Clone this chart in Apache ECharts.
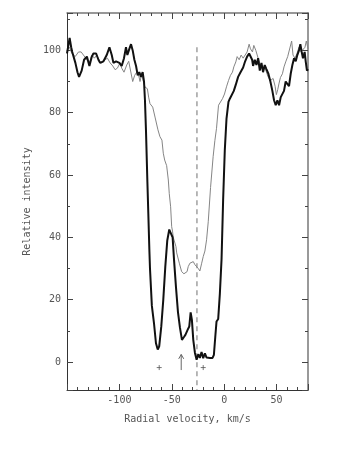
<!DOCTYPE html>
<html><head><meta charset="utf-8">
<script src="https://cdn.jsdelivr.net/npm/echarts@6/dist/echarts.min.js"></script>
<style>html,body{margin:0;padding:0;background:#fff}#c{width:349px;height:451px}</style>
</head><body><div id="c"></div>
<script>
// Thick black profile
const blackVel = [-150,-148.5,-147.5,-146,-145,-142,-140,-138.5,-136,-133.7,-131,-128.6,-126.3,-124.8,-122.2,-120,-118.4,-115.2,-112.1,-109.5,-107.3,-105.7,-103.2,-100,-97.8,-95.6,-93.7,-92.4,-90.5,-88.9,-87.3,-85.7,-84.1,-82.5,-81,-79.4,-77.8,-76.5,-75.6,-74.6,-73.3,-72.4,-71.4,-70.8,-69,-67,-65.1,-63.4,-62,-60,-58.1,-56.2,-54.3,-52.4,-50.5,-49.2,-47.9,-46,-44.1,-42.2,-40.3,-38.4,-37,-34.9,-33.3,-32,-30.8,-29.5,-27.9,-26.3,-24.7,-23.2,-21.6,-20,-18.4,-16.8,-15.2,-13.6,-11.1,-9.8,-8.5,-7.3,-5.7,-4.1,-2.5,-1,0.6,2.2,4.1,5.4,7.3,9.2,11.1,13.3,15.6,18.1,20,21.9,23.8,25.1,26.7,27.6,29.2,30.8,32.4,34,35.6,37.1,38.7,40.3,42.2,44.1,46,47.6,49.2,50.8,52.4,54,55.6,57.1,58.7,60.3,61.9,63.5,65.1,66.7,68.3,69.8,71.4,72.7,74,75.2,76.8,77.8,79,80];
const blackInt = [99,102,104,101,99.5,96,93,91.5,93.5,97,98,95,98,99,99,97,96,96.5,98.5,101,98.5,96,96.5,96,95,97.5,101,98.5,100.5,102,100,97,95,92,93,91.5,93,90,84,74,58,47.7,36,30,18,12.5,6,4,5,11.5,20,30.5,39,42.5,42.3,40,33,24,16,11,7.1,8,8.7,10.3,11.4,15.9,13.5,7.1,2.9,0.7,2.5,1.3,3.2,1.2,2.8,1.4,2,1.3,1.3,2.3,8,13,13.8,22,33,52,68,78,83.5,84.5,84.8,87,89,91.5,93,94.5,96.5,98,99,98.5,97,95,97,95.3,97.5,93.5,96,93,95.3,94,92.5,90,87,84,82.4,84,82.4,85,85.5,87,90,89.5,88.5,92.5,95.3,97.5,96.5,98.5,100,102,99.5,97.5,99.5,96.5,93.5,94];
// Thin grey profile
const grayVel = [-150,-147.6,-145.4,-142.2,-139,-136.5,-134.3,-131.1,-128.6,-126.3,-123.8,-121.6,-119,-116.8,-113.7,-111.4,-108.9,-106.3,-104.1,-101.9,-99.4,-97.8,-95.6,-93,-91.1,-89.2,-87.3,-85.4,-83.5,-81.6,-80.3,-78.7,-77.1,-75.5,-73.3,-72.1,-70.8,-68.2,-66,-63.2,-61.3,-59.4,-58.1,-56.8,-54.9,-53.3,-52.4,-51.1,-50.1,-49.3,-48.6,-47.3,-46,-45.3,-42.8,-40.6,-38.4,-36.5,-35.4,-34.3,-32.7,-31.1,-29.5,-27.9,-26.3,-24.7,-23.2,-21.6,-20,-18.4,-16.8,-15.2,-13,-10.5,-8.9,-7.3,-5.4,-3.5,-1.6,0.3,2.2,4.1,6,7.9,9.2,11.1,12.4,14.3,16.2,18.1,20,21.9,23.8,25.1,27,28.3,30.2,32.4,34.6,37.1,39.7,41.9,44.1,46.7,48.6,49.8,51.1,52.4,53.7,55.6,57.1,58.7,60.6,62.5,64.4,65.7,67.6,69.5,71.4,73.3,75.2,77.1,78.4,80];
const grayInt = [100,101,99,98,99.5,99.5,98.5,97,96,98.5,97.5,98.5,96.5,96,97,97.5,96,95,93.8,94.3,96,94.3,93,95.3,96.5,96,90,92,93,92,90,92.5,90,88.2,87.7,85,82.9,81.8,78.6,74.5,72.3,71.2,67,64.8,63,58.4,54,49.8,43.4,42,40,39.7,37,35,31.7,29,28.3,27.8,29,30.6,31.7,31.2,32.2,31.2,31.7,30,29.2,31.5,33.8,35.6,39.2,45,56,66,71,75,82.4,83,84.5,86,88.3,90.3,92,93,94.7,96.3,98,97,98.5,97.5,98,99.5,102,100.5,99.5,101.6,100,97.5,95.3,94.7,93.7,91.5,90.3,91,88.5,85.8,87.4,89.5,91.3,92.5,94.7,96.3,98,97.5,103,98.5,97.5,99,101,99.5,99,101,103,100.5];
const xTickLabels = [-100, -50, 0, 50];
const yTickLabels = [0, 20, 40, 60, 80, 100];
const refVelocity = -26, refTop = 101;
const plusVel = [-62, -20], plusInt = [-1.8, -1.8];
const arrowVel = -41, arrowBase = -2.6, arrowTip = 2.4, arrowHeadDx = 2.4, arrowHeadDy = 1.4;

const X_MIN = -150, X_MAX = 80, Y_MIN = -9, Y_MAX = 112;
const FONT = 'DejaVu Sans Mono';
const TICK = {color: '#444', width: 1};

function xAxis(pos, interval, len, labels, line) {
  return {
    type: 'value', position: pos, min: X_MIN, max: X_MAX, interval: interval,
    axisLine: {show: !!line, onZero: false, lineStyle: line || {}},
    axisTick: {show: true, inside: true, length: len, lineStyle: TICK},
    axisLabel: {show: labels, margin: 5, fontFamily: FONT, fontSize: 10, color: '#555',
      formatter: v => xTickLabels.includes(v) ? String(v) : ''},
    splitLine: {show: false},
    name: labels ? 'Radial velocity, km/s' : '', nameLocation: 'middle', nameGap: 24,
    nameTextStyle: {fontFamily: FONT, fontSize: 10, color: '#555'}
  };
}
function yAxis(pos, split, len, labels, line) {
  return {
    type: 'value', position: pos, min: Y_MIN, max: Y_MAX, splitNumber: split,
    axisLine: {show: !!line, onZero: false, lineStyle: line || {}},
    axisTick: {show: true, inside: true, length: len, lineStyle: TICK},
    axisLabel: {show: labels, margin: 6, fontFamily: FONT, fontSize: 10, color: '#555',
      formatter: v => yTickLabels.includes(v) ? String(v) : ''},
    splitLine: {show: false},
    name: labels ? 'Relative intensity' : '', nameLocation: 'middle', nameGap: 33,
    nameTextStyle: {fontFamily: FONT, fontSize: 10, color: '#555'}
  };
}
const zip = (a, b) => a.map((v, i) => [v, b[i]]);

const chart = echarts.init(document.getElementById('c'), null, {renderer: 'canvas'});
chart.setOption({
  animation: false,
  backgroundColor: '#fff',
  grid: {left: 67, right: 41, top: 13, bottom: 61, containLabel: false},
  xAxis: [
    xAxis('bottom', 50, 6, true, {color: '#333', width: 1}),
    xAxis('bottom', 10, 3, false, null),
    xAxis('top', 50, 6, false, {color: '#777', width: 1.5}),
    xAxis('top', 10, 3, false, null)
  ],
  yAxis: [
    yAxis('left', 6, 6, true, {color: '#333', width: 1}),
    yAxis('left', 12, 3, false, null),
    yAxis('right', 6, 6, false, {color: '#999', width: 2}),
    yAxis('right', 12, 3, false, null)
  ],
  series: [
    {type: 'line', data: zip(grayVel, grayInt), showSymbol: false, symbol: 'none',
      lineStyle: {color: '#858585', width: 1}, z: 2},
    {type: 'line', data: zip(blackVel, blackInt), showSymbol: false, symbol: 'none',
      lineStyle: {color: '#111', width: 2}, z: 3},
    {type: 'line', data: [[refVelocity, refTop], [refVelocity, Y_MIN]], symbol: 'none',
      lineStyle: {color: '#a0a0a0', width: 1.5, type: [5, 4]}, z: 1},
    {type: 'scatter', data: zip(plusVel, plusInt), symbol: 'path://M5,0L5,10M0,5L10,5',
      symbolSize: 5, itemStyle: {color: 'none', borderColor: '#555', borderWidth: 1}, z: 4},
    {type: 'line', connectNulls: false, symbol: 'none',
      data: [[arrowVel, arrowBase], [arrowVel, arrowTip], '-',
             [arrowVel - arrowHeadDx, arrowTip - arrowHeadDy], [arrowVel, arrowTip], [arrowVel + arrowHeadDx, arrowTip - arrowHeadDy]],
      lineStyle: {color: '#666', width: 1}, z: 4}
  ]
});
</script></body></html>
